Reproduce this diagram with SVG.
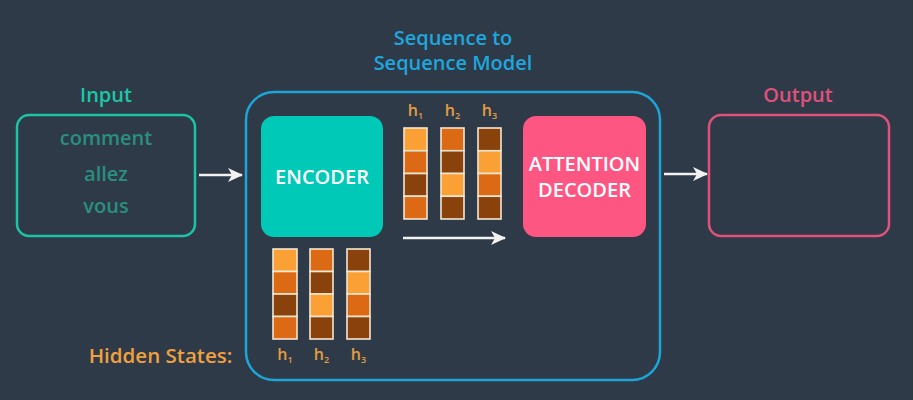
<svg xmlns="http://www.w3.org/2000/svg" width="913" height="400" viewBox="0 0 913 400">
<defs>
<style>
text{font-family:"Open Sans","Noto Sans","Liberation Sans",sans-serif;font-weight:600;}
.t21{font-size:20px;text-anchor:middle;}
.lt{fill:#fba035;}
.md{fill:#dc6a14;}
.dk{fill:#8a420d;}
.cell{stroke:#f4e6d2;stroke-width:1.6;}
.hl{font-size:16px;fill:#e39d40;text-anchor:middle;}
.sub{font-size:9px;}
.conn{stroke:#f2f2f2;stroke-width:2.5;fill:none;}
</style>
<marker id="ah" markerWidth="15" markerHeight="15" viewBox="0 0 15 15" refX="14" refY="7.5" orient="auto" markerUnits="userSpaceOnUse">
<path d="M0,0.5 L15,7.5 L0,14.5 L4,7.5 z" fill="#f2f2f2"/>
</marker>
</defs>
<rect x="0" y="0" width="913" height="400" fill="#2e3a47"/>

<g id="input">
<text class="t21" x="106" y="102" fill="#1ec6a6">Input</text>
<rect x="17" y="115" width="178" height="121" rx="12" fill="none" stroke="#1cc3a5" stroke-width="2.5"/>
<text class="t21" x="106" y="145" fill="#2a8f80" font-size="20.5">comment</text>
<text class="t21" x="106" y="181" fill="#2a8f80" font-size="20.5">allez</text>
<text class="t21" x="106" y="213" fill="#2a8f80" font-size="20.5">vous</text>
</g>

<g id="seq2seq">
<text class="t21" x="453" y="45" fill="#1fa6de">Sequence to</text>
<text class="t21" x="453" y="70" fill="#1fa6de">Sequence Model</text>
<rect x="246" y="92" width="414" height="288" rx="28" fill="none" stroke="#1da5d8" stroke-width="2.5"/>
</g>

<g id="encoder">
<rect x="261" y="116" width="122" height="121" rx="13" fill="#00c9b7"/>
<text class="t21" x="322" y="184" fill="#ffffff">ENCODER</text>
</g>

<g id="decoder">
<rect x="523" y="116" width="123" height="121" rx="13" fill="#fe5682"/>
<text class="t21" x="584.5" y="171" fill="#ffffff">ATTENTION</text>
<text class="t21" x="584.5" y="197" fill="#ffffff">DECODER</text>
</g>

<g id="output">
<text class="t21" x="798" y="102" fill="#e0517c">Output</text>
<rect x="709" y="115" width="180" height="121" rx="12" fill="none" stroke="#e0517c" stroke-width="2.5"/>
</g>

<g id="hidden-states-top">
<g class="cell">
<rect class="lt" x="404" y="128" width="23" height="22.75"/>
<rect class="md" x="404" y="150.75" width="23" height="22.75"/>
<rect class="dk" x="404" y="173.5" width="23" height="22.75"/>
<rect class="md" x="404" y="196.25" width="23" height="22.75"/>
<rect class="md" x="441" y="128" width="23" height="22.75"/>
<rect class="dk" x="441" y="150.75" width="23" height="22.75"/>
<rect class="lt" x="441" y="173.5" width="23" height="22.75"/>
<rect class="dk" x="441" y="196.25" width="23" height="22.75"/>
<rect class="dk" x="478" y="128" width="23" height="22.75"/>
<rect class="lt" x="478" y="150.75" width="23" height="22.75"/>
<rect class="md" x="478" y="173.5" width="23" height="22.75"/>
<rect class="dk" x="478" y="196.25" width="23" height="22.75"/>
</g>
<text class="hl" x="415.5" y="116">h<tspan class="sub" dy="3">1</tspan></text>
<text class="hl" x="452.5" y="116">h<tspan class="sub" dy="3">2</tspan></text>
<text class="hl" x="489.5" y="116">h<tspan class="sub" dy="3">3</tspan></text>
</g>

<g id="hidden-states-bottom">
<g class="cell">
<rect class="lt" x="273" y="249" width="24" height="22.5"/>
<rect class="md" x="273" y="271.5" width="24" height="22.5"/>
<rect class="dk" x="273" y="294" width="24" height="22.5"/>
<rect class="md" x="273" y="316.5" width="24" height="22.5"/>
<rect class="md" x="310" y="249" width="23" height="22.5"/>
<rect class="dk" x="310" y="271.5" width="23" height="22.5"/>
<rect class="lt" x="310" y="294" width="23" height="22.5"/>
<rect class="dk" x="310" y="316.5" width="23" height="22.5"/>
<rect class="dk" x="347" y="249" width="23" height="22.5"/>
<rect class="lt" x="347" y="271.5" width="23" height="22.5"/>
<rect class="md" x="347" y="294" width="23" height="22.5"/>
<rect class="dk" x="347" y="316.5" width="23" height="22.5"/>
</g>
<text class="hl" x="285" y="360">h<tspan class="sub" dy="3">1</tspan></text>
<text class="hl" x="321.5" y="360">h<tspan class="sub" dy="3">2</tspan></text>
<text class="hl" x="358.5" y="360">h<tspan class="sub" dy="3">3</tspan></text>
<text x="160.5" y="363" font-size="20.5" fill="#f0a03e" text-anchor="middle">Hidden States:</text>
</g>

<g id="connectors">
<line class="conn" x1="199" y1="175" x2="242" y2="175" marker-end="url(#ah)"/>
<line class="conn" x1="403" y1="238" x2="505" y2="238" marker-end="url(#ah)"/>
<line class="conn" x1="664" y1="174" x2="707" y2="174" marker-end="url(#ah)"/>
</g>
</svg>
